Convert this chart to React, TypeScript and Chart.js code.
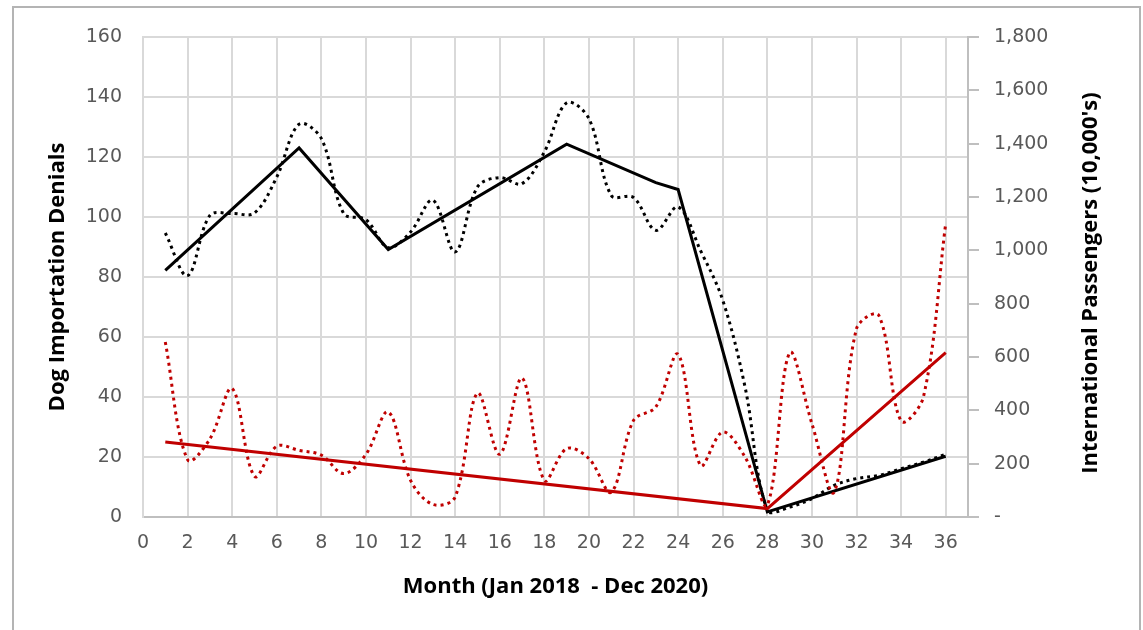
import React, { useEffect, useRef } from "react";
import { Chart, registerables } from "chart.js";

Chart.register(...registerables);

// Month index (Jan 2018 = 1 ... Dec 2020 = 36)
const months = [
  1, 2, 3, 4, 5, 6, 7, 8, 9, 10, 11, 12, 13, 14, 15, 16, 17, 18,
  19, 20, 21, 22, 23, 24, 25, 26, 27, 28, 29, 30, 31, 32, 33, 34, 35, 36,
];

// International passengers (10,000's) – right axis
const passengers = [
  1065, 905, 1131, 1138, 1140, 1275, 1473, 1419, 1138, 1115, 1010, 1069,
  1188, 994, 1238, 1273, 1250, 1369, 1553, 1494, 1206, 1198, 1075, 1163,
  1000, 813, 488, 25, 37, 69, 119, 144, 156, 181, 206, 235,
];

// Dog importation denials – left axis
const denials = [
  58.3, 19.1, 26, 42.8, 13.6, 23.6, 22.2, 20.6, 14.5, 20.9, 35, 12.2,
  4.2, 6.7, 41.3, 20.9, 46.3, 12.2, 22.8, 19.5, 8.3, 32.2, 36.7, 54.2,
  17.2, 28.3, 20, 4, 54.7, 31.1, 8.3, 62.8, 67.2, 32, 40, 97.8,
];

// Trend lines (vertices)
const passengerTrendMonths = [1, 7, 11, 19, 23, 24, 28, 36];
const passengerTrend = [925, 1384, 1003, 1398, 1254, 1228, 19, 228];
const denialTrendMonths = [1, 28, 36];
const denialTrend = [25, 2.8, 54.8];

// Tick values / labels
const monthTicks = [0, 2, 4, 6, 8, 10, 12, 14, 16, 18, 20, 22, 24, 26, 28, 30, 32, 34, 36];
const denialTicks = [0, 20, 40, 60, 80, 100, 120, 140, 160];
const passengerTicks = [0, 200, 400, 600, 800, 1000, 1200, 1400, 1600, 1800];
const passengerTickLabels = ["-", "200", "400", "600", "800", "1,000", "1,200", "1,400", "1,600", "1,800"];

const xTitle = "Month (Jan 2018  - Dec 2020)";
const yTitle = "Dog Importation Denials";
const y2Title = "International Passengers (10,000's)";

const RED = "#c00000";
const GRID = "#d9d9d9";
const AXIS = "#bfbfbf";
const TICK_FONT = { family: "'DejaVu Sans', sans-serif", size: 19 };
const TITLE_FONT = { family: "'Open Sans', sans-serif", size: 22, weight: "bold" as const };

function pts(xs: number[], ys: number[]) {
  return xs.map((x, i) => ({ x, y: ys[i] }));
}

const rightTitlePlugin = {
  id: "rightTitle",
  afterDraw(chart: any) {
    const ctx = chart.ctx;
    const s = chart.scales.y2;
    const area = chart.chartArea;
    ctx.save();
    ctx.translate(s.right - 52, (area.top + area.bottom) / 2 + 6);
    ctx.rotate(-Math.PI / 2);
    ctx.font = "bold 22px 'Open Sans', sans-serif";
    ctx.fillStyle = "#000";
    ctx.textAlign = "center";
    ctx.textBaseline = "middle";
    ctx.fillText(y2Title, 0, 0);
    ctx.restore();
  },
};

export default function App() {
  const ref = useRef<HTMLCanvasElement>(null);

  useEffect(() => {
    const canvas = ref.current;
    if (!canvas) return;
    const chart = new Chart(canvas, {
      type: "line",
      data: {
        datasets: [
          {
            label: "Denials trend",
            data: pts(denialTrendMonths, denialTrend),
            borderColor: RED,
            borderWidth: 3,
            pointRadius: 0,
            tension: 0,
            yAxisID: "y",
          },
          {
            label: "Denials",
            data: pts(months, denials),
            borderColor: RED,
            borderWidth: 3,
            borderDash: [3, 4],
            pointRadius: 0,
            tension: 0.35,
            yAxisID: "y",
          },
          {
            label: "Passengers trend",
            data: pts(passengerTrendMonths, passengerTrend),
            borderColor: "#000",
            borderWidth: 3,
            pointRadius: 0,
            tension: 0,
            yAxisID: "y2",
          },
          {
            label: "Passengers",
            data: pts(months, passengers),
            borderColor: "#000",
            borderWidth: 3,
            borderDash: [3, 4],
            pointRadius: 0,
            tension: 0.35,
            yAxisID: "y2",
          },
        ],
      },
      options: {
        responsive: false,
        animation: false,
        devicePixelRatio: 1,
        layout: { padding: { top: 37, left: 0, right: 0, bottom: 0 } },
        plugins: {
          legend: { display: false },
          tooltip: { enabled: false },
        },
        scales: {
          x: {
            type: "linear",
            min: 0,
            max: 37,
            afterBuildTicks: (scale: any) => {
              scale.ticks = monthTicks.map((v) => ({ value: v }));
            },
            afterFit: (scale: any) => {
              scale.height = 113;
            },
            grid: { color: GRID, lineWidth: 2, drawTicks: false },
            border: { color: AXIS, width: 2 },
            ticks: {
              font: TICK_FONT,
              color: "#595959",
              padding: 15,
              maxRotation: 0,
              autoSkip: false,
              callback: (v: any) => String(v),
            },
            title: {
              display: true,
              text: xTitle,
              font: TITLE_FONT,
              color: "#000",
              padding: { top: 0, bottom: 30 },
            },
          },
          y: {
            type: "linear",
            position: "left",
            min: 0,
            max: 160,
            afterBuildTicks: (scale: any) => {
              scale.ticks = denialTicks.map((v) => ({ value: v }));
            },
            afterFit: (scale: any) => {
              scale.width = 143;
            },
            grid: { color: GRID, lineWidth: 2, drawTicks: false },
            border: { color: GRID, width: 2 },
            ticks: {
              font: TICK_FONT,
              color: "#595959",
              padding: 21,
              callback: (v: any) => String(v),
            },
            title: {
              display: true,
              text: yTitle,
              font: TITLE_FONT,
              color: "#000",
              padding: { top: 45, bottom: 0 },
            },
          },
          y2: {
            type: "linear",
            position: "right",
            min: 0,
            max: 1800,
            afterBuildTicks: (scale: any) => {
              scale.ticks = passengerTicks.map((v) => ({ value: v }));
            },
            afterFit: (scale: any) => {
              scale.width = 175;
            },
            grid: {
              drawOnChartArea: false,
              drawTicks: true,
              tickLength: 11,
              color: AXIS,
              lineWidth: 2,
            },
            border: { color: AXIS, width: 2 },
            ticks: {
              font: TICK_FONT,
              color: "#595959",
              padding: 15,
              callback: (_v: any, i: number) => passengerTickLabels[i],
            },
          },
        },
      },
      plugins: [rightTitlePlugin],
    } as any);
    return () => chart.destroy();
  }, []);

  return (
    <div
      style={{
        position: "absolute",
        left: 0,
        top: 0,
        width: 1143,
        height: 630,
        background: "#fff",
        overflow: "hidden",
      }}
    >
      <div
        style={{
          position: "absolute",
          left: 12,
          top: 6,
          width: 1129,
          height: 640,
          border: "2px solid #b4b4b4",
          boxSizing: "border-box",
        }}
      />
      <canvas
        ref={ref}
        width={1143}
        height={630}
        style={{ position: "absolute", left: 0, top: 0 }}
      />
    </div>
  );
}
